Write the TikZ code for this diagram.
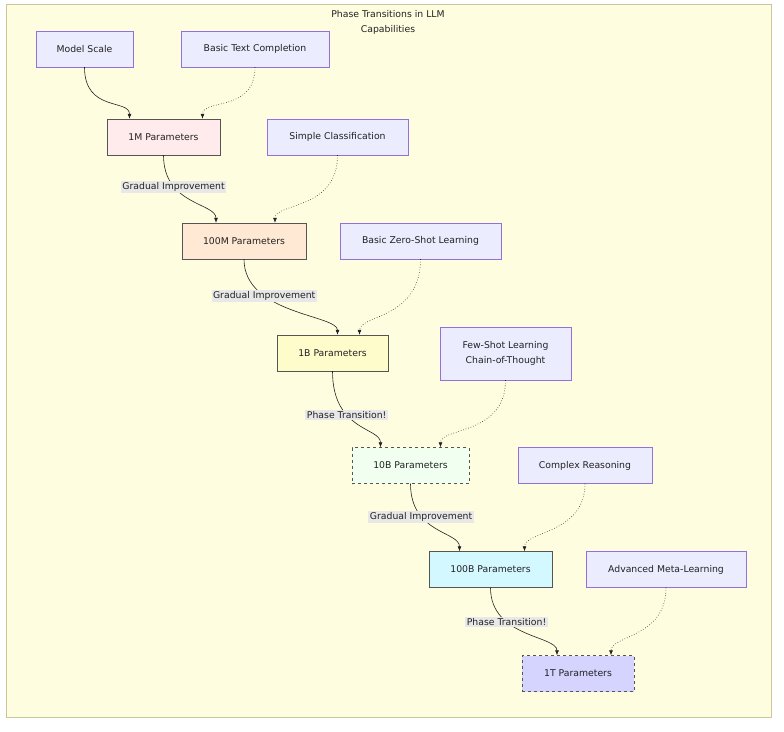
\documentclass[tikz,border=0pt]{standalone}
\usepackage{fontspec}
\setmainfont{DejaVu Sans}
\usetikzlibrary{arrows.meta,calc}
\definecolor{bgy}{HTML}{FFFDE0}
\definecolor{bgb}{HTML}{C8C89A}
\definecolor{capf}{HTML}{ECECFF}
\definecolor{capb}{HTML}{9370DB}
\definecolor{txt}{HTML}{222222}
\definecolor{nb}{HTML}{555555}
\begin{document}
\begin{tikzpicture}[x=1pt,y=-1pt,font=\fontsize{9.3}{15}\selectfont,text=txt,
  box/.style={draw=nb,minimum height=36pt,align=center,inner sep=0pt},
  capab/.style={draw=capb,fill=capf,minimum height=36pt,align=center,inner sep=0pt},
  sol/.style={draw=txt,line width=0.6pt,-{Latex[length=5pt,width=4pt]}},
  dot/.style={draw=txt,line width=0.6pt,dotted,-{Latex[length=5pt,width=4pt]}},
  lab/.style={fill=black!9,inner sep=1.5pt,text=txt}]
\useasboundingbox (0,0) rectangle (784,731);
\draw[draw=bgb,fill=bgy] (6,4) rectangle (771,717);
\node[align=center] (title) at (388,22) {Phase Transitions in LLM\\Capabilities};
\node[capab,minimum width=97pt] (ms) at (84.5,49) {Model Scale};
\node[capab,minimum width=148pt] (btc) at (255,49) {Basic Text Completion};
\node[box,fill=red!8,minimum width=113pt] (p1m) at (163.5,137) {1M Parameters};
\node[capab,minimum width=141pt] (sc) at (337.5,137) {Simple Classification};
\node[box,fill=orange!17,minimum width=124pt] (p100m) at (244,241) {100M Parameters};
\node[capab,minimum width=161pt] (bzs) at (420.5,241) {Basic Zero-Shot Learning};
\node[box,fill=yellow!20,minimum width=111pt] (p1b) at (332.5,353) {1B Parameters};
\node[capab,minimum width=131pt,minimum height=53pt] (fs) at (505.5,353.5) {Few-Shot Learning\\Chain-of-Thought};
\node[box,dashed,fill=green!6,minimum width=117pt] (p10b) at (410.5,465.5) {10B Parameters};
\node[capab,minimum width=134pt] (cr) at (585,465.5) {Complex Reasoning};
\node[box,fill=blue!17!cyan!17,minimum width=123pt] (p100b) at (490.5,569.5) {100B Parameters};
\node[capab,minimum width=160pt] (aml) at (666,569.5) {Advanced Meta-Learning};
\node[box,dashed,fill=blue!17,minimum width=112pt] (p1t) at (578,673.5) {1T Parameters};
% solid edges
\draw[sol] (ms.south) .. controls +(0,45) and +(0,-20) .. ($(p1m.north)+(-34,0)$);
\draw[sol] (p1m.south) .. controls +(0,50) and +(0,-20) .. node[lab,pos=0.28]{Gradual Improvement} ($(p100m.north)+(-28,0)$);
\draw[sol] (p100m.south) .. controls +(0,55) and +(0,-20) .. node[lab,pos=0.3]{Gradual Improvement} ($(p1b.north)+(5,0)$);
\draw[sol] (p1b.south) .. controls +(0,60) and +(0,-20) .. node[lab,pos=0.36]{Phase Transition!} ($(p10b.north)+(-30,0)$);
\draw[sol] (p10b.south) .. controls +(0,50) and +(0,-20) .. node[lab,pos=0.3]{Gradual Improvement} ($(p100b.north)+(-31,0)$);
\draw[sol] (p100b.south) .. controls +(0,50) and +(0,-20) .. node[lab,pos=0.32]{Phase Transition!} ($(p1t.north)+(-21,0)$);
% dotted edges
\draw[dot] (btc.south) .. controls +(0,45) and +(0,-20) .. ($(p1m.north)+(39,0)$);
\draw[dot] (sc.south) .. controls +(0,55) and +(0,-20) .. ($(p100m.north)+(31,0)$);
\draw[dot] (bzs.south) .. controls +(0,60) and +(0,-20) .. ($(p1b.north)+(27,0)$);
\draw[dot] (fs.south) .. controls +(0,55) and +(0,-20) .. ($(p10b.north)+(30,0)$);
\draw[dot] (cr.south) .. controls +(0,50) and +(0,-20) .. ($(p100b.north)+(34,0)$);
\draw[dot] (aml.south) .. controls +(0,50) and +(0,-20) .. ($(p1t.north)+(33,0)$);
\end{tikzpicture}
\end{document}
